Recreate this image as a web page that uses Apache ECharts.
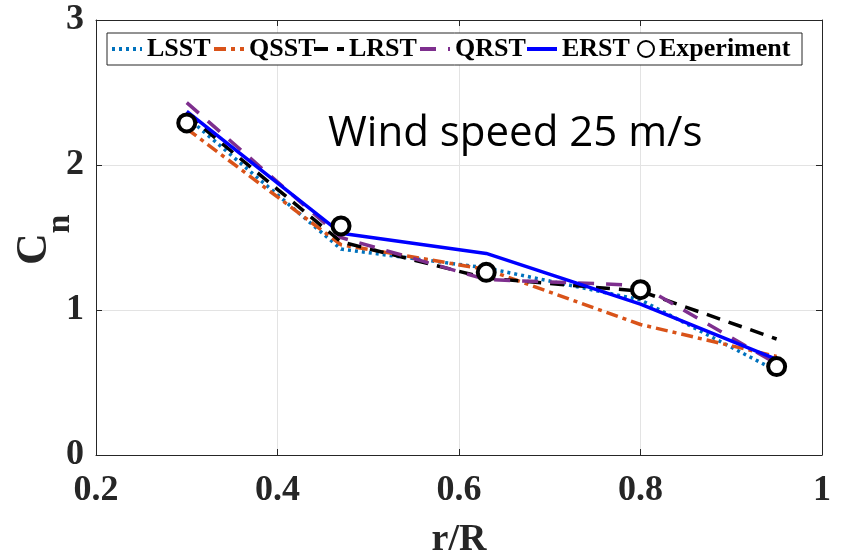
<!DOCTYPE html>
<html><head><meta charset="utf-8">
<script src="https://cdn.jsdelivr.net/npm/echarts@6/dist/echarts.min.js"></script>
<style>html,body{margin:0;padding:0;background:#fff}#c{width:841px;height:554px}</style>
</head><body><div id="c"></div>
<script>
const rR = [0.3, 0.47, 0.63, 0.8, 0.95];
const LSST = [2.33, 1.42, 1.29, 1.07, 0.58];
const QSST = [2.25, 1.45, 1.28, 0.90, 0.68];
const LRST = [2.35, 1.47, 1.22, 1.13, 0.80];
const QRST = [2.43, 1.50, 1.21, 1.17, 0.63];
const ERST = [2.37, 1.53, 1.39, 1.04, 0.66];
const EXP  = [2.29, 1.58, 1.26, 1.14, 0.61];
const seriesNames = ['LSST', 'QSST', 'LRST', 'QRST', 'ERST', 'Experiment'];

const pair = a => rR.map((x, i) => [x, a[i]]);
const serif = '"Liberation Serif","Times New Roman",serif';
const chart = echarts.init(document.getElementById('c'));
const lineS = (name, data, color, type, w) => ({
  name, type: 'line', data: pair(data), symbol: 'none', z: 3,
  lineStyle: { color, type, width: w }, itemStyle: { color }
});
const axCommon = {
  axisLine: { show: true, onZero: false, lineStyle: { color: '#262626', width: 1 } },
  axisTick: { show: true, inside: true, length: 6, lineStyle: { color: '#262626' } },
};
const legendLefts = [110, 212, 312, 418, 525, 637];
const legends = seriesNames.map((n, i) => ({
  left: legendLefts[i], top: 36, padding: 0, z: 10,
  itemWidth: n === 'Experiment' ? 16 : 30, itemHeight: 16, itemGap: 0,
  itemStyle: n === 'Experiment' ? {} : { opacity: 0 },
  lineStyle: { width: 4 },
  textStyle: { fontFamily: serif, fontWeight: 'bold', fontSize: 26, color: '#000' },
  data: [n]
}));
chart.setOption({
  animation: false,
  grid: { left: 96, right: 19, top: 20, bottom: 99, containLabel: false, outerBoundsMode: 'none' },
  legend: legends,
  xAxis: [{
    type: 'value', min: 0.2, max: 1, interval: 0.2, ...axCommon,
    splitLine: { show: true, lineStyle: { color: '#e3e3e3' } },
    axisLabel: { margin: 18, fontFamily: serif, fontWeight: 'bold', fontSize: 36, color: '#262626',
      formatter: v => String(+v.toFixed(1)) },
    name: 'r/R', nameLocation: 'middle', nameGap: 66,
    nameTextStyle: { fontFamily: serif, fontWeight: 'bold', fontSize: 38, color: '#262626', verticalAlign: 'top' }
  }, {
    type: 'value', position: 'top', min: 0.2, max: 1, interval: 0.2, ...axCommon,
    axisLabel: { show: false }, splitLine: { show: false }
  }],
  yAxis: [{
    type: 'value', min: 0, max: 3, interval: 1, ...axCommon,
    splitLine: { show: true, lineStyle: { color: '#e3e3e3' } },
    axisLabel: { margin: 12, fontFamily: serif, fontWeight: 'bold', fontSize: 36, color: '#262626' }
  }, {
    type: 'value', position: 'right', min: 0, max: 3, interval: 1, ...axCommon,
    axisLabel: { show: false }, splitLine: { show: false }
  }],
  graphic: [
    { type: 'rect', z: 5, shape: { x: 107, y: 33, width: 695, height: 32 },
      style: { fill: '#fff', stroke: '#262626', lineWidth: 1 } },
    { type: 'text', left: 328, top: 113, z: 6,
      style: { text: 'Wind speed 25 m/s', fontFamily: '"Open Sans","Liberation Sans",sans-serif', fontSize: 42, fill: '#000' } },
    { type: 'text', x: 35, y: 249, rotation: Math.PI / 2, z: 6,
      style: { text: 'C', fontFamily: serif, fontWeight: 'bold', fontSize: 44, fill: '#262626', textAlign: 'center', textVerticalAlign: 'middle' } },
    { type: 'text', x: 60, y: 224, rotation: Math.PI / 2, z: 6,
      style: { text: 'n', fontFamily: serif, fontWeight: 'bold', fontSize: 34, fill: '#262626', textAlign: 'center', textVerticalAlign: 'middle' } }
  ],
  series: [
    lineS('LSST', LSST, '#0072BD', [3, 4], 3.5),
    lineS('QSST', QSST, '#D95319', [12, 5, 4, 5], 3.5),
    lineS('LRST', LRST, '#000000', [14, 9], 3.5),
    lineS('QRST', QRST, '#7E2F8E', [16, 12], 3.5),
    lineS('ERST', ERST, '#0000FF', 'solid', 3.5),
    { name: 'Experiment', type: 'scatter', data: pair(EXP), symbol: 'circle', symbolSize: 17, z: 5,
      itemStyle: { color: '#fff', borderColor: '#000', borderWidth: 4, opacity: 1 } }
  ]
});
</script></body></html>
